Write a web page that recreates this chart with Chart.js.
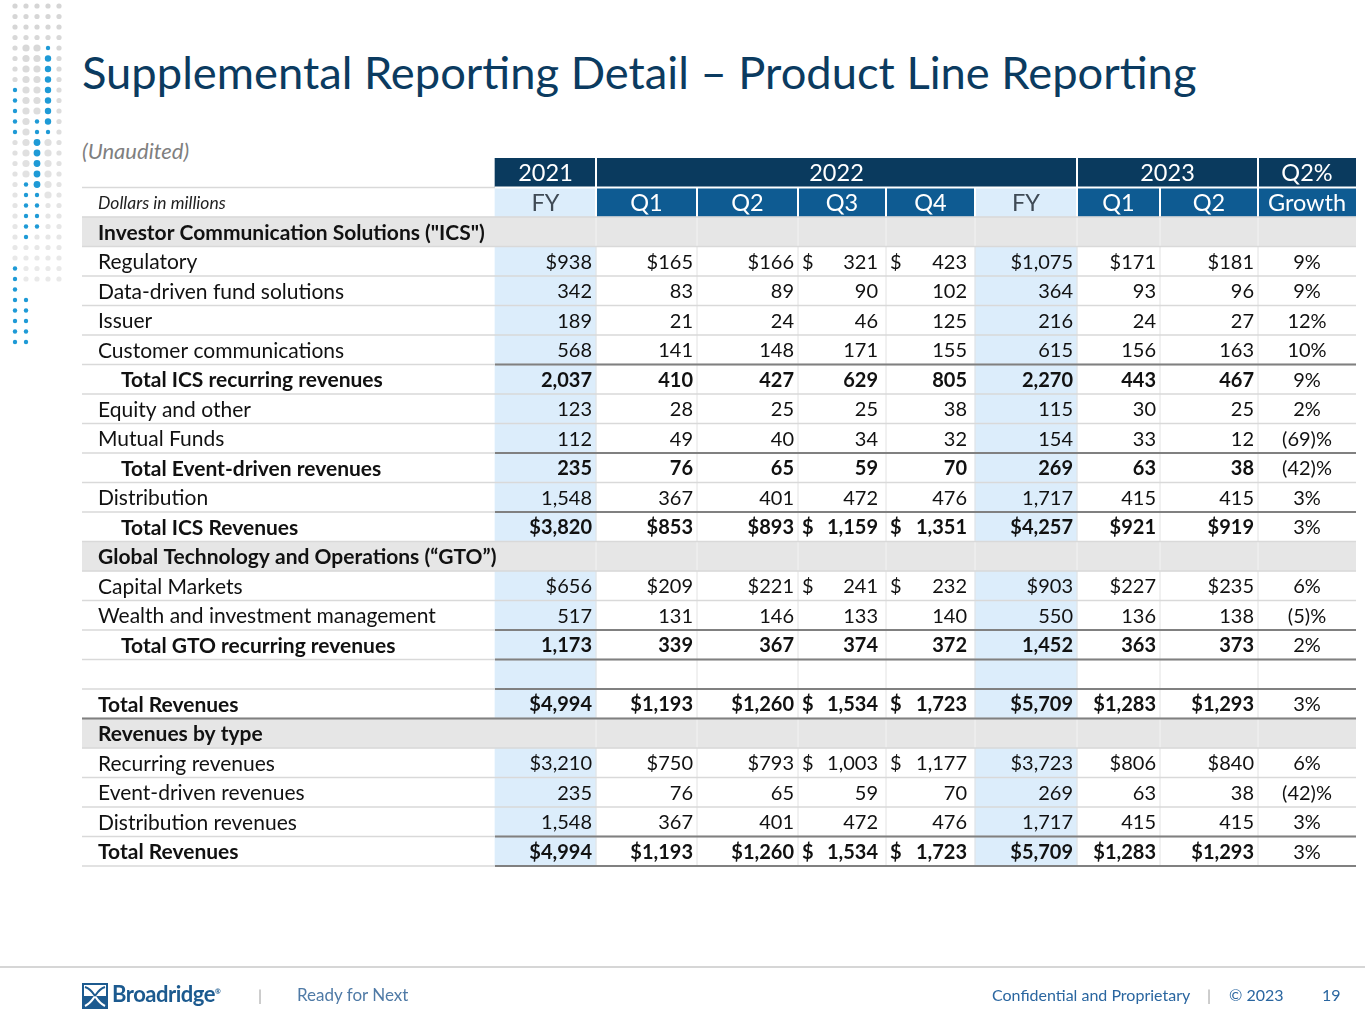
<!DOCTYPE html>
<html>
<head>
<meta charset="utf-8">
<script src="https://cdn.jsdelivr.net/npm/chart.js@4.4.0/dist/chart.umd.min.js"></script>
<style>
  body { margin: 0; background: #fff; font-family: Lato, "Open Sans", sans-serif; }
  #page { position: relative; width: 1365px; height: 1024px; overflow: hidden; }
  #table-chart { position: absolute; left: 0; top: 0; }
  #dots { position: absolute; left: 0; top: 0; }
  #title { position: absolute; left: 82px; top: 44px; font-size: 44px; color: #0b3b60; white-space: nowrap; }
  #sub { position: absolute; left: 82px; top: 137px; font-size: 22px; font-style: italic; color: #7f7f7f; }
  #footline { position: absolute; left: 0; top: 966px; width: 1365px; height: 2px; background: #d6d6d6; }
  .foot { position: absolute; top: 985px; font-size: 16px; color: #2a66a0; white-space: nowrap; }
  #brand { position: absolute; left: 112px; top: 980px; font-size: 22px; font-weight: bold; color: #1c5a8f; letter-spacing: -0.5px; }
</style>
</head>
<body>
<div id="page">
  <canvas id="dots" width="70" height="350"></canvas>
  <div id="title">Supplemental Reporting Detail – Product Line Reporting</div>
  <div id="sub">(Unaudited)</div>
  <canvas id="table-chart" width="1365" height="1024"></canvas>
  <div id="footline"></div>
  <svg style="position:absolute;left:82px;top:983px" width="26" height="26" viewBox="0 0 26 26">
    <rect x="0" y="0" width="26" height="26" fill="#1c5a8f"/>
    <rect x="2" y="2" width="22" height="11" fill="#fff"/>
    <path d="M3 4 C9 6, 11 10, 13 13 C15 16, 17 20, 23 23" stroke="#fff" stroke-width="2" fill="none"/>
    <path d="M23 4 C17 6, 15 10, 13 13 C11 16, 9 20, 3 23" stroke="#fff" stroke-width="2" fill="none"/>
    <path d="M3 4 C9 6, 11 10, 13 13" stroke="#1c5a8f" stroke-width="2" fill="none"/>
    <path d="M23 4 C17 6, 15 10, 13 13" stroke="#1c5a8f" stroke-width="2" fill="none"/>
  </svg>
  <div id="brand">Broadridge<sup style="font-size:7px">®</sup></div>
  <div class="foot" style="left:258px;color:#aaa">|</div>
  <div class="foot" style="left:297px;font-size:17px;top:984px;color:#4f7aa6">Ready for Next</div>
  <div class="foot" style="left:992px">Confidential and Proprietary</div>
  <div class="foot" style="left:1207px;color:#aaa">|</div>
  <div class="foot" style="left:1229px">© 2023</div>
  <div class="foot" style="left:1322px">19</div>
</div>
<script>
// header labels
const years = ['2021', '2022', '2023', 'Q2%'];
const yearSpans = [[0, 0], [1, 5], [6, 7], [8, 8]];   // data-column ranges under each year
const periods = ['FY', 'Q1', 'Q2', 'Q3', 'Q4', 'FY', 'Q1', 'Q2', 'Growth'];
const fyCols = [0, 5];

// body rows
const rowLabels = [
  'Investor Communication Solutions ("ICS")', 'Regulatory', 'Data-driven fund solutions', 'Issuer',
  'Customer communications', 'Total ICS recurring revenues', 'Equity and other', 'Mutual Funds',
  'Total Event-driven revenues', 'Distribution', 'Total ICS Revenues',
  'Global Technology and Operations (“GTO”)', 'Capital Markets', 'Wealth and investment management',
  'Total GTO recurring revenues', '', 'Total Revenues', 'Revenues by type', 'Recurring revenues',
  'Event-driven revenues', 'Distribution revenues', 'Total Revenues'
];
const rowKinds = [
  'section', 'item', 'item', 'item', 'item', 'subtotal', 'item', 'item', 'subtotal', 'item', 'subtotal',
  'section', 'item', 'item', 'subtotal', 'blank', 'total', 'section', 'item', 'item', 'item', 'total'
];
const dollarRows = [1, 10, 12, 16, 18, 21];
// FY21, Q1-Q4 22, FY22, Q1-Q2 23, Q2 growth %
const rowValues = [
  null,
  [938, 165, 166, 321, 423, 1075, 171, 181, 9],
  [342, 83, 89, 90, 102, 364, 93, 96, 9],
  [189, 21, 24, 46, 125, 216, 24, 27, 12],
  [568, 141, 148, 171, 155, 615, 156, 163, 10],
  [2037, 410, 427, 629, 805, 2270, 443, 467, 9],
  [123, 28, 25, 25, 38, 115, 30, 25, 2],
  [112, 49, 40, 34, 32, 154, 33, 12, -69],
  [235, 76, 65, 59, 70, 269, 63, 38, -42],
  [1548, 367, 401, 472, 476, 1717, 415, 415, 3],
  [3820, 853, 893, 1159, 1351, 4257, 921, 919, 3],
  null,
  [656, 209, 221, 241, 232, 903, 227, 235, 6],
  [517, 131, 146, 133, 140, 550, 136, 138, -5],
  [1173, 339, 367, 374, 372, 1452, 363, 373, 2],
  null,
  [4994, 1193, 1260, 1534, 1723, 5709, 1283, 1293, 3],
  null,
  [3210, 750, 793, 1003, 1177, 3723, 806, 840, 6],
  [235, 76, 65, 59, 70, 269, 63, 38, -42],
  [1548, 367, 401, 472, 476, 1717, 415, 415, 3],
  [4994, 1193, 1260, 1534, 1723, 5709, 1283, 1293, 3]
];

// layout: column edges in table units (label column first)
const colEdges = [0, 413, 514, 615, 716, 804, 893, 995, 1078, 1176, 1274];
const accountingCols = [3, 4];  // Q3, Q4 use "$   321" style

const NAVY = '#0a3a5e', MID = '#0e5b92', FY_BLUE = '#dcedfb', GRAY = '#e6e6e6';
const FONT = 'Lato, "Open Sans", sans-serif';

// decorative dots
(function () {
  const c = document.getElementById('dots').getContext('2d');
  const xs = [15, 26, 37, 48, 59];
  const blue = [[[86, 132], [268, 345]], [[176, 242], [296, 345]], [[118, 236]], [[38, 138]], []];
  for (let ci = 0; ci < xs.length; ci++) {
    for (let y = 6; y < 345; y += 10.5) {
      const isBlue = blue[ci].some(r => y >= r[0] && y <= r[1]);
      const fade = Math.max(0, 1 - y / 330);
      if (!isBlue && fade < 0.15) continue;
      c.beginPath();
      const r = isBlue ? (ci === 3 && y > 50 && y < 125 ? 3.2 : ci === 2 && y > 140 && y < 190 ? 3.4 : 2.2)
                       : (ci > 0 && ci < 4 && y > 40 && y < 200 ? 3.6 : 2.6);
      c.arc(xs[ci], y, r, 0, Math.PI * 2);
      c.fillStyle = isBlue ? '#1e9ad6' : 'rgba(205,205,205,' + (0.35 + 0.5 * fade).toFixed(2) + ')';
      c.fill();
    }
  }
})();

// fit title width
(function () {
  const t = document.getElementById('title');
  const w = t.offsetWidth;
  t.style.fontSize = (44 * 1115 / w).toFixed(1) + 'px';
})();

const yLabels = ['h0', 'h1'].concat(rowLabels.map((l, i) => 'r' + i));

const cellData = [], cellColors = [];
function addCell(rowKey, e0, e1, color) {
  cellData.push({ y: rowKey, x: [colEdges[e0], colEdges[e1]] });
  cellColors.push(color);
}
yearSpans.forEach(s => addCell('h0', s[0] + 1, s[1] + 2, NAVY));
periods.forEach((p, c) => addCell('h1', c + 1, c + 2, fyCols.includes(c) ? FY_BLUE : MID));
rowKinds.forEach((k, i) => {
  if (k === 'section') addCell('r' + i, 0, colEdges.length - 1, GRAY);
  else fyCols.forEach(c => addCell('r' + i, c + 1, c + 2, FY_BLUE));
});

function fmt(v, row, col) {
  if (col === 8) return v < 0 ? '(' + Math.abs(v) + ')%' : v + '%';
  const s = v.toLocaleString('en-US');
  return dollarRows.includes(row) && !accountingCols.includes(col) ? '$' + s : s;
}

const tablePlugin = {
  id: 'tableText',
  afterDatasetsDraw(chart) {
    const ctx = chart.ctx, xs = chart.scales.x, ys = chart.scales.y;
    const X = e => xs.getPixelForValue(colEdges[e]);
    const rowH = ys.getPixelForValue(1) - ys.getPixelForValue(0);
    const top = i => ys.getPixelForValue(i) - rowH / 2;
    const left = X(0), dataLeft = X(1), right = X(colEdges.length - 1);
    const nRows = yLabels.length;
    ctx.save();

    function hline(y, x0, x1, color, w) {
      ctx.strokeStyle = color; ctx.lineWidth = w;
      ctx.beginPath(); ctx.moveTo(x0, y); ctx.lineTo(x1, y); ctx.stroke();
    }
    function vline(x, y0, y1, color, w) {
      ctx.strokeStyle = color; ctx.lineWidth = w;
      ctx.beginPath(); ctx.moveTo(x, y0); ctx.lineTo(x, y1); ctx.stroke();
    }

    // header separators
    yearSpans.slice(1).forEach(s => vline(X(s[0] + 1), top(0), top(1), '#fff', 2));
    for (let e = 2; e < colEdges.length - 1; e++) vline(X(e), top(1), top(2), '#fff', 2);
    hline(top(1), dataLeft, right, '#fff', 2);
    hline(top(1), left, dataLeft, '#d9d9d9', 1.5);

    // body grid
    for (let r = 2; r < nRows; r++) {
      const kind = rowKinds[r - 2];
      for (let e = 2; e < colEdges.length - 1; e++) {
        vline(X(e), top(r), top(r) + rowH, kind === 'section' ? '#f3f3f3' : '#e2e2e2', 1);
      }
    }
    for (let r = 2; r <= nRows; r++) hline(top(r), left, right, '#d9d9d9', 1.5);
    for (let r = 2; r < nRows; r++) {
      const kind = rowKinds[r - 2];
      if (kind === 'subtotal' || kind === 'total') {
        hline(top(r), dataLeft, right, '#808080', 2);
        const next = rowKinds[r - 1];
        if (kind === 'total' && next === 'section') hline(top(r + 1), left, right, '#808080', 2);
        else if (next === 'blank' || next === undefined) hline(top(r + 1), dataLeft, right, '#808080', 2);
      }
    }

    // header text
    ctx.textBaseline = 'middle';
    ctx.textAlign = 'center';
    ctx.font = '23.5px ' + FONT;
    ctx.fillStyle = '#fff';
    yearSpans.forEach((s, i) => ctx.fillText(years[i], (X(s[0] + 1) + X(s[1] + 2)) / 2, top(0) + rowH / 2 + 1));
    periods.forEach((p, c) => {
      ctx.fillStyle = fyCols.includes(c) ? '#3f4a55' : '#fff';
      ctx.fillText(p, (X(c + 1) + X(c + 2)) / 2, top(1) + rowH / 2 + 1);
    });
    ctx.textAlign = 'left';
    ctx.fillStyle = '#222';
    ctx.font = 'italic 17.5px ' + FONT;
    ctx.fillText('Dollars in millions', left + 16, top(1) + rowH / 2 + 1);

    // body text
    rowLabels.forEach((label, i) => {
      const kind = rowKinds[i];
      const r = i + 2;
      const cy = top(r) + rowH / 2 + 1;
      const bold = kind !== 'item';
      ctx.font = (bold ? 'bold ' : '') + '21px ' + FONT;
      ctx.fillStyle = '#111';
      ctx.textAlign = 'left';
      ctx.fillText(label, left + (kind === 'subtotal' ? 39 : 16), cy);
      const vals = rowValues[i];
      if (!vals) return;
      const numFont = (bold ? 'bold ' : '') + '20px ' + FONT;
      vals.forEach((v, c) => {
        const x0 = X(c + 1), x1 = X(c + 2);
        if (c === 8) {
          ctx.textAlign = 'center';
          ctx.font = '20px ' + FONT;
          ctx.fillText(fmt(v, i, c), (x0 + x1) / 2, cy);
          return;
        }
        ctx.font = numFont;
        const acc = accountingCols.includes(c);
        ctx.textAlign = 'right';
        ctx.fillText(fmt(v, i, c), x1 - (acc ? 8 : 4), cy);
        if (acc && dollarRows.includes(i)) {
          ctx.textAlign = 'left';
          ctx.fillText('$', x0 + 4, cy);
        }
      });
    });
    ctx.restore();
  }
};

new Chart(document.getElementById('table-chart'), {
  type: 'bar',
  data: {
    labels: yLabels,
    datasets: [{
      label: 'cells',
      data: cellData,
      backgroundColor: cellColors,
      borderWidth: 0,
      barPercentage: 1,
      categoryPercentage: 1
    }]
  },
  options: {
    indexAxis: 'y',
    responsive: false,
    animation: false,
    layout: { padding: { left: 82, right: 9, top: 158, bottom: 158 } },
    plugins: { legend: { display: false }, tooltip: { enabled: false } },
    scales: {
      x: { type: 'linear', min: 0, max: colEdges[colEdges.length - 1], display: false },
      y: { type: 'category', labels: yLabels, offset: true, display: false }
    }
  },
  plugins: [tablePlugin]
});
</script>
</body>
</html>
